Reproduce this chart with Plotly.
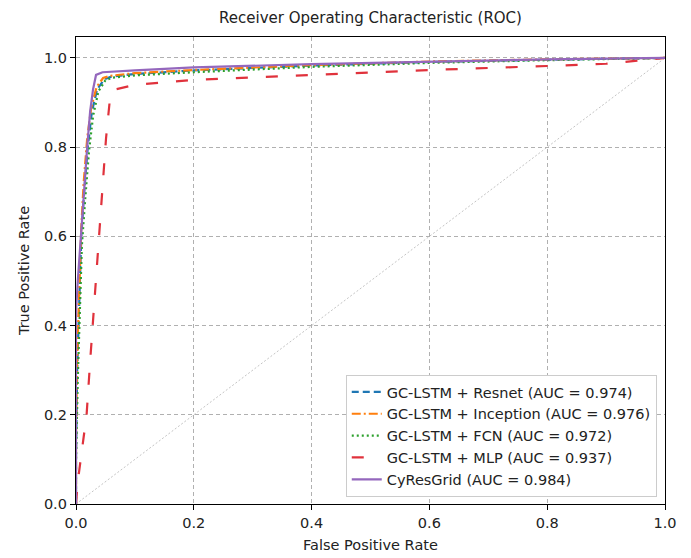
import plotly.graph_objects as go

# ---- data ----
resnet_fpr = [0.0, 0.0, 0.002, 0.005, 0.009, 0.014, 0.020, 0.027, 0.036, 0.048, 0.060, 0.1, 0.2, 0.4, 0.6, 0.8, 1.0]
resnet_tpr = [0.0, 0.10, 0.30, 0.45, 0.60, 0.70, 0.80, 0.88, 0.93, 0.952, 0.958, 0.964, 0.972, 0.983, 0.991, 0.996, 1.0]

incep_fpr = [0.0, 0.0, 0.002, 0.005, 0.009, 0.013, 0.019, 0.026, 0.035, 0.046, 0.058, 0.1, 0.2, 0.4, 0.6, 0.8, 1.0]
incep_tpr = [0.0, 0.15, 0.33, 0.48, 0.62, 0.72, 0.82, 0.89, 0.935, 0.955, 0.960, 0.966, 0.973, 0.984, 0.992, 0.997, 1.0]

fcn_fpr = [0.0, 0.0, 0.003, 0.006, 0.010, 0.016, 0.022, 0.029, 0.038, 0.050, 0.062, 0.1, 0.2, 0.4, 0.6, 0.8, 1.0]
fcn_tpr = [0.0, 0.10, 0.28, 0.42, 0.58, 0.69, 0.79, 0.87, 0.925, 0.950, 0.956, 0.961, 0.968, 0.980, 0.989, 0.995, 1.0]

mlp_fpr = [0.0, 0.003, 0.010, 0.018, 0.024, 0.031, 0.038, 0.045, 0.051, 0.057, 0.062, 0.1, 0.2, 0.4, 0.6, 0.8, 0.9, 1.0]
mlp_tpr = [0.0, 0.05, 0.12, 0.20, 0.32, 0.45, 0.60, 0.72, 0.82, 0.90, 0.928, 0.940, 0.951, 0.962, 0.973, 0.982, 0.987, 1.0]

cyres_fpr = [0.0, 0.0, 0.003, 0.008, 0.014, 0.019, 0.024, 0.029, 0.034, 0.045, 0.1, 0.2, 0.4, 0.6, 0.8, 1.0]
cyres_tpr = [0.0, 0.43, 0.50, 0.60, 0.70, 0.80, 0.88, 0.93, 0.962, 0.968, 0.972, 0.979, 0.986, 0.992, 0.997, 1.0]

diag = [0.0, 1.0]

names = [
    "GC-LSTM + Resnet (AUC = 0.974)",
    "GC-LSTM + Inception (AUC = 0.976)",
    "GC-LSTM + FCN (AUC = 0.972)",
    "GC-LSTM + MLP (AUC = 0.937)",
    "CyResGrid (AUC = 0.984)",
]
ticks = [0.0, 0.2, 0.4, 0.6, 0.8, 1.0]
tick_labels = ["0.0", "0.2", "0.4", "0.6", "0.8", "1.0"]

# ---- figure ----
fig = go.Figure()
fig.add_trace(go.Scatter(x=diag, y=diag, mode="lines", showlegend=False,
                         line=dict(color="#b5b5b5", width=0.8, dash="2px,2px")))

series = [
    (resnet_fpr, resnet_tpr, "#1f77b4", "7px,4px"),
    (incep_fpr, incep_tpr, "#ff7f0e", "9px,3px,2px,3px"),
    (fcn_fpr, fcn_tpr, "#2ca02c", "2px,3px"),
    (mlp_fpr, mlp_tpr, "#e0323c", "12px,18px"),
    (cyres_fpr, cyres_tpr, "#9467bd", "solid"),
]
for (x, y, c, d), n in zip(series, names):
    fig.add_trace(go.Scatter(x=x, y=y, mode="lines", name=n,
                             line=dict(color=c, width=2.2, dash=d)))

axis_common = dict(
    showline=True, linecolor="black", linewidth=1.3, mirror=True,
    ticks="outside", ticklen=5, tickwidth=1.3, tickcolor="black",
    showgrid=True, gridcolor="#b0b0b0", gridwidth=1, griddash="4px,3px",
    zeroline=False, tickvals=ticks, ticktext=tick_labels,
    tickfont=dict(size=14.5, color="#222"), automargin=False,
)
fig.update_xaxes(range=[0, 1], title=dict(text="False Positive Rate", font=dict(size=14.5, color="#222"), standoff=10),
                 **axis_common)
fig.update_yaxes(range=[0, 1.047], title=dict(text="True Positive Rate", font=dict(size=14.5, color="#222"), standoff=10),
                 **axis_common)

fig.update_layout(
    width=691, height=558,
    margin=dict(l=68, r=34, t=29, b=62),
    paper_bgcolor="white", plot_bgcolor="white",
    font=dict(family="DejaVu Sans", color="#222"),
    title=dict(text="Receiver Operating Characteristic (ROC)", x=0.5246, xanchor="center",
               y=0.982, yanchor="middle", font=dict(size=15, color="#222")),
    legend=dict(x=0.986, y=0.015, xanchor="right", yanchor="bottom",
                bgcolor="white", bordercolor="#cccccc", borderwidth=1,
                font=dict(size=14.5, color="#222"), tracegroupgap=0, itemwidth=30),
)

fig.write_html("out.html")
